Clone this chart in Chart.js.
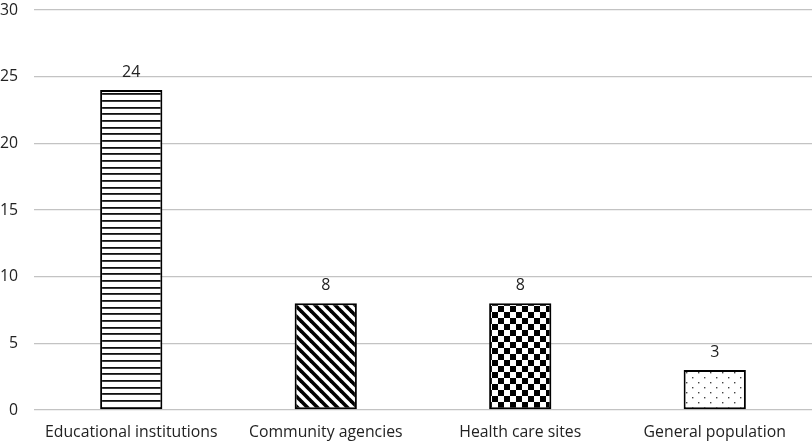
<!DOCTYPE html>
<html>
<head>
<meta charset="utf-8">
<script src="https://cdn.jsdelivr.net/npm/chart.js@4"></script>
<style>
  html, body { margin: 0; padding: 0; background: #fff; }
  #wrap { width: 812px; height: 443px; position: relative; }
</style>
</head>
<body>
<div id="wrap"><canvas id="c"></canvas></div>
<script>
var categories = ['Educational institutions', 'Community agencies', 'Health care sites', 'General population'];
var counts     = [24, 8, 8, 3];
var yTicks     = [0, 5, 10, 15, 20, 25, 30];

var FONT = '"Open Sans", sans-serif';

// pattern tiles drawn on small offscreen canvases
function tile(w, h, draw) {
  var t = document.createElement('canvas');
  t.width = w; t.height = h;
  var g = t.getContext('2d');
  g.fillStyle = '#fff';
  g.fillRect(0, 0, w, h);
  draw(g);
  return document.getElementById('c').getContext('2d').createPattern(t, 'repeat');
}

var hLines = tile(20, 20, function (g) {
  g.fillStyle = '#111';
  for (var i = 0; i < 3; i++) g.fillRect(0, Math.round(i * 20 / 3), 20, 1.8);
});

var diag = tile(10, 10, function (g) {
  g.strokeStyle = '#000';
  g.lineWidth = 3.6;
  for (var k = -1; k <= 1; k++) {
    g.beginPath();
    g.moveTo(k * 10 - 2, -2);
    g.lineTo(k * 10 + 12, 12);
    g.stroke();
  }
});

var checker = tile(12, 12, function (g) {
  g.fillStyle = '#000';
  g.fillRect(0, 0, 6, 6);
  g.fillRect(6, 6, 6, 6);
});

var dots = tile(12, 10, function (g) {
  g.fillStyle = '#444';
  g.fillRect(2, 2, 1.4, 1.4);
  g.fillRect(8, 7, 1.4, 1.4);
});

// value above each bar
var valueLabels = {
  id: 'valueLabels',
  afterDatasetsDraw: function (chart) {
    var c = chart.ctx;
    var meta = chart.getDatasetMeta(0);
    c.save();
    c.font = '16px ' + FONT;
    c.fillStyle = '#222';
    c.textAlign = 'center';
    c.textBaseline = 'alphabetic';
    meta.data.forEach(function (bar, i) {
      c.fillText(String(counts[i]), bar.x, bar.y - 13);
    });
    c.restore();
  }
};

new Chart(document.getElementById('c'), {
  type: 'bar',
  plugins: [valueLabels],
  data: {
    labels: categories,
    datasets: [{
      data: counts,
      backgroundColor: [hLines, diag, checker, dots],
      borderColor: '#000',
      borderWidth: 2,
      borderSkipped: false,
      categoryPercentage: 1,
      barPercentage: 0.32
    }]
  },
  options: {
    responsive: true,
    maintainAspectRatio: false,
    animation: false,
    layout: { padding: { top: 10, right: 0, left: 0, bottom: 0 } },
    plugins: { legend: { display: false }, tooltip: { enabled: false } },
    scales: {
      x: {
        afterFit: function (s) { s.height = 33; s.paddingLeft = 0; s.paddingRight = 0; },
        grid: { display: false },
        border: { display: false },
        ticks: { color: '#222', font: { family: FONT, size: 15.8 }, padding: 5, maxRotation: 0 }
      },
      y: {
        min: 0,
        max: 30,
        afterFit: function (s) { s.width = 34; s.paddingTop = 0; s.paddingBottom = 0; },
        afterBuildTicks: function (s) { s.ticks = yTicks.map(function (v) { return { value: v }; }); },
        grid: { color: '#c3c3c3', lineWidth: 1.3, drawTicks: false },
        border: { display: false },
        ticks: { color: '#222', font: { family: FONT, size: 15.8 }, padding: 16 }
      }
    }
  }
});
</script>
</body>
</html>
